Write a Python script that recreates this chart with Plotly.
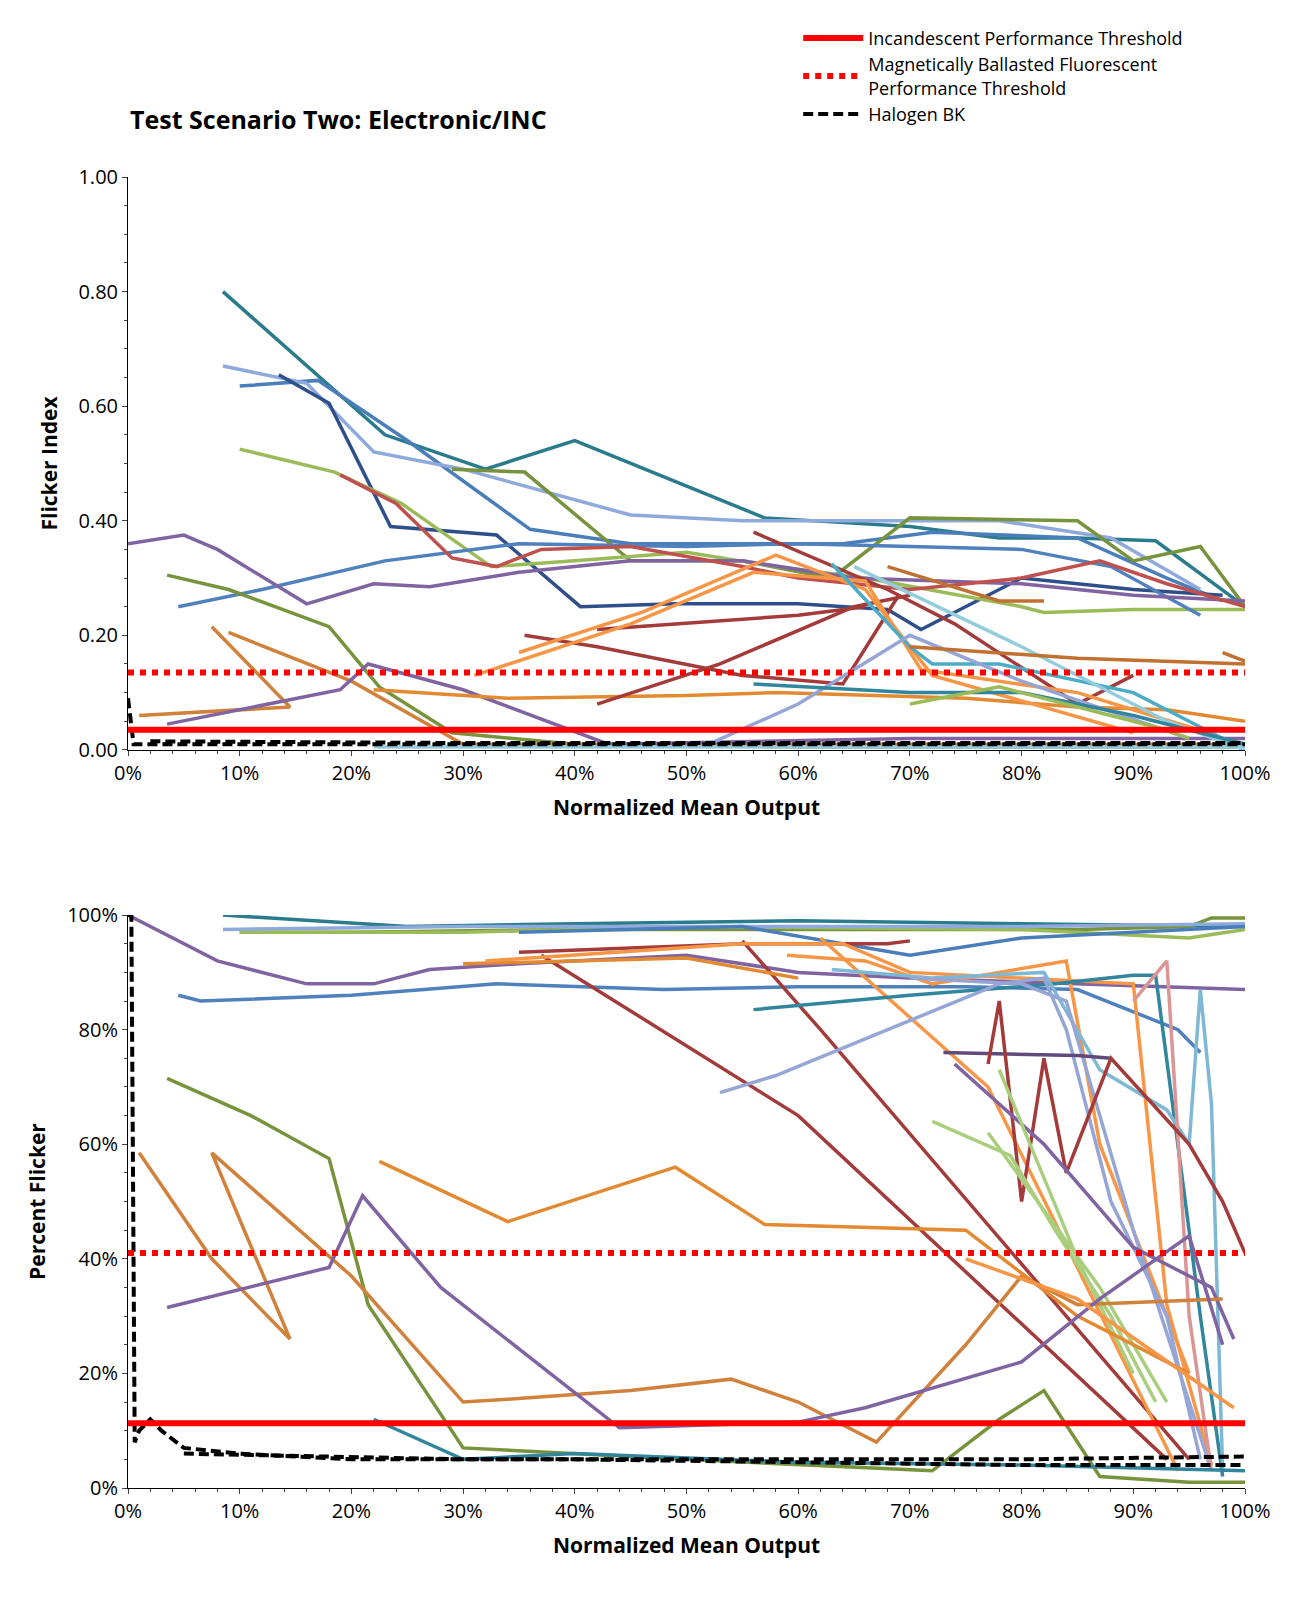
import plotly.graph_objects as go
from plotly.subplots import make_subplots

# ---- data: top (flicker index) ----
top_series = [
 ("#2a7b8c", [0.085,0.23,0.32,0.40,0.57,0.70,0.78,0.85,0.92,1.0], [0.80,0.55,0.49,0.54,0.405,0.39,0.37,0.37,0.365,0.25]),
 ("#4a7ebb", [0.10,0.17,0.25,0.36,0.45,0.55,0.64,0.72,0.85,0.93,0.98], [0.635,0.645,0.54,0.385,0.36,0.36,0.36,0.38,0.37,0.30,0.26]),
 ("#8ea9db", [0.085,0.16,0.22,0.30,0.45,0.55,0.67,0.78,0.88,0.96], [0.67,0.64,0.52,0.49,0.41,0.40,0.40,0.40,0.37,0.28]),
 ("#2e4f8a", [0.135,0.18,0.235,0.33,0.405,0.49,0.60,0.68,0.71,0.80,0.90,0.98], [0.655,0.605,0.39,0.375,0.25,0.255,0.255,0.245,0.21,0.30,0.28,0.27]),
 ("#77933c", [0.29,0.355,0.45,0.55,0.63,0.70,0.85,0.90,0.96,1.0], [0.49,0.485,0.33,0.33,0.30,0.405,0.40,0.33,0.355,0.25]),
 ("#9bbb59", [0.10,0.185,0.245,0.30,0.325,0.40,0.50,0.58,0.66,0.80,0.82,0.90,1.0], [0.525,0.485,0.43,0.355,0.32,0.33,0.345,0.32,0.30,0.25,0.24,0.245,0.245]),
 ("#4f81bd", [0.045,0.12,0.23,0.35,0.50,0.60,0.70,0.80,0.88,0.96], [0.25,0.28,0.33,0.36,0.355,0.36,0.355,0.35,0.32,0.235]),
 ("#8064a2", [0.0,0.05,0.08,0.16,0.22,0.27,0.35,0.45,0.55,0.65,0.80,0.90,1.0], [0.36,0.375,0.35,0.255,0.29,0.285,0.31,0.33,0.33,0.30,0.29,0.27,0.26]),
 ("#c0504d", [0.19,0.24,0.29,0.33,0.37,0.45,0.55,0.60,0.70,0.80,0.87,0.93,1.0], [0.48,0.43,0.335,0.32,0.35,0.355,0.32,0.30,0.28,0.30,0.33,0.29,0.25]),
 ("#77933c", [0.035,0.09,0.18,0.225,0.29,0.40,0.6,1.0], [0.305,0.28,0.215,0.11,0.03,0.01,0.005,0.005]),
 ("#d0813b", [0.075,0.145,0.01], [0.215,0.075,0.06]),
 ("#d0813b", [0.09,0.2,0.3,0.6,1.0], [0.205,0.12,0.01,0.01,0.01]),
 ("#8064a2", [0.035,0.19,0.215,0.30,0.43,0.7,0.9,1.0], [0.045,0.105,0.15,0.105,0.01,0.02,0.02,0.02]),
 ("#e28a32", [0.22,0.34,0.50,0.58,0.75,0.85,0.93,1.0], [0.105,0.09,0.095,0.10,0.09,0.075,0.07,0.05]),
 ("#a33b3b", [0.355,0.42,0.55,0.64,0.69], [0.20,0.18,0.13,0.115,0.27]),
 ("#a33b3b", [0.42,0.6,0.66], [0.21,0.235,0.25]),
 ("#a33b3b", [0.56,0.68,0.74,0.85,0.9], [0.38,0.28,0.22,0.08,0.13]),
 ("#a33b3b", [0.42,0.53,0.65,0.7], [0.08,0.15,0.25,0.27]),
 ("#f79646", [0.31,0.45,0.56,0.66,0.71,0.85,0.95,0.98], [0.13,0.22,0.31,0.295,0.14,0.10,0.04,0.02]),
 ("#f79646", [0.35,0.46,0.58,0.66,0.72,0.90], [0.17,0.24,0.34,0.28,0.13,0.03]),
 ("#4bacc6", [0.63,0.70,0.72,0.78,0.90,0.98], [0.325,0.18,0.15,0.15,0.10,0.02]),
 ("#93cddd", [0.65,0.80,0.93,1.0], [0.32,0.18,0.05,0.0]),
 ("#95a5d6", [0.52,0.60,0.70,0.80,0.95], [0.01,0.08,0.20,0.12,0.02]),
 ("#c07030", [0.68,0.78,0.82], [0.32,0.26,0.26]),
 ("#c07030", [0.70,0.85,1.0], [0.18,0.16,0.15]),
 ("#c07030", [0.98,1.0], [0.17,0.155]),
 ("#31859c", [0.56,0.70,0.80,0.90,1.0], [0.115,0.10,0.10,0.06,0.01]),
 ("#9bbb59", [0.70,0.78,0.92,0.95], [0.08,0.11,0.04,0.02]),
 ("#93cddd", [0.22,0.5,0.8,1.0], [0.005,0.005,0.005,0.005]),
]
top_halogen = [([0.0,0.005,0.3,0.6,1.0], [0.09,0.01,0.01,0.01,0.01]),
               ([0.02,0.3,0.6,1.0], [0.015,0.012,0.012,0.012])]

# ---- data: bottom (percent flicker) ----
bot_series = [
 ("#2a7b8c", [0.085,0.25,0.4,0.6,0.8,1.0], [100,98,98.5,99,98.5,98]),
 ("#77933c", [0.10,0.2,0.4,0.7,0.85,0.95,0.97,1.0], [97,97,97.5,97.5,97.5,98,99.5,99.5]),
 ("#9bbb59", [0.1,0.3,0.5,0.8,0.95,1.0], [97,97,98,97.5,96,97.5]),
 ("#8ea9db", [0.085,0.3,0.6,0.8,1.0], [97.5,98,98,98,98.5]),
 ("#4a7ebb", [0.35,0.55,0.70,0.80,0.90,1.0], [97,98,93,96,97,98]),
 ("#8064a2", [0.0,0.08,0.16,0.22,0.27,0.35,0.5,0.6,0.7,0.85,1.0], [100,92,88,88,90.5,91.5,93,90,89,88,87]),
 ("#4f81bd", [0.045,0.065,0.2,0.33,0.48,0.60,0.75,0.85,0.94,0.96], [86,85,86,88,87,87.5,87.5,87,80,76]),
 ("#a33b3b", [0.35,0.55,0.68,0.7], [93.5,95,95,95.5]),
 ("#a33b3b", [0.37,0.60,0.93], [93,65,5]),
 ("#a33b3b", [0.55,0.62,0.95], [95.5,80,5]),
 ("#e28a32", [0.30,0.50,0.60], [91.5,92.5,89]),
 ("#f79646", [0.32,0.55,0.64,0.7,0.9,0.93,0.97], [92,95,95,90,88,32,4]),
 ("#f79646", [0.59,0.66,0.72,0.84,0.87,0.95], [93,92,88,92,60,20]),
 ("#f79646", [0.62,0.77,0.94], [96,70,3]),
 ("#31859c", [0.56,0.7,0.83,0.9,0.92,0.96,0.98], [83.5,86,88,89.5,89.5,30,2]),
 ("#7fb8d4", [0.63,0.72,0.82,0.87,0.93,0.95,0.96,0.97,0.98], [90.5,89,90,73,66,60,87,67,3]),
 ("#95a5d6", [0.53,0.58,0.78,0.82,0.84,0.88,0.93,0.96], [69,72,88,89,80,50,30,5]),
 ("#95a5d6", [0.70,0.80,0.84,0.90,0.95,0.97], [89,88,85,45,15,3]),
 ("#d99694", [0.9,0.93,0.95,0.97], [85,92,30,3]),
 ("#604a7b", [0.73,0.85,0.88], [76,75.5,75]),
 ("#a33b3b", [0.77,0.78,0.80,0.82,0.84,0.88,0.95,0.98,1.0], [74,85,50,75,55,75,60,50,41]),
 ("#8064a2", [0.74,0.82,0.9,0.97,0.99], [74,60,42,35,26]),
 ("#a9cf7e", [0.72,0.79,0.83,0.88,0.92], [64,58,45,30,15]),
 ("#a9cf7e", [0.78,0.85,0.90], [73,40,20]),
 ("#a9cf7e", [0.77,0.87,0.93], [62,35,15]),
 ("#77933c", [0.035,0.11,0.18,0.215,0.30,0.5,0.72,0.78,0.82,0.87,0.95,1.0], [71.5,65,57.5,32,7,5,3,12,17,2,1,1]),
 ("#d0813b", [0.01,0.075,0.145,0.075,0.20,0.30,0.34,0.45,0.54,0.6,0.67,0.75,0.80,0.85,0.98], [58.5,40,26,58.5,37,15,15.5,17,19,15,8,25,37,32,33]),
 ("#e28a32", [0.225,0.34,0.49,0.57,0.75,0.85,0.95], [57,46.5,56,46,45,30,20]),
 ("#8064a2", [0.035,0.18,0.21,0.28,0.44,0.6,0.66,0.8,0.87,0.95,0.98], [31.5,38.5,51,35,10.5,11.5,14,22,33,44,25]),
 ("#31859c", [0.22,0.30,0.40,0.6,0.8,1.0], [12,5,6,4.5,4,3]),
 ("#f79646", [0.75,0.85,0.99], [40,33,14]),
]
bot_halogen = [([0.0,0.003,0.006,0.01,0.02,0.03,0.05,0.1,0.2,0.4,0.6,0.8,1.0], [100,100,8,10,12,10,7,6,5,5,4.5,4,4]),
               ([0.05,0.3,0.6,0.8,1.0], [6,5,5,5,5.5])]

thr_inc = (0.035, 11.3)
thr_mag = (0.135, 41)

LW = 3.5
fig = make_subplots(rows=2, cols=1, vertical_spacing=0.126)
fig.update_layout(yaxis=dict(domain=[0.563, 1.0]), yaxis2=dict(domain=[0, 0.437]))

for c, x, y in top_series:
    fig.add_trace(go.Scatter(x=x, y=y, mode="lines", line=dict(color=c, width=LW), showlegend=False), 1, 1)
for c, x, y in bot_series:
    fig.add_trace(go.Scatter(x=x, y=y, mode="lines", line=dict(color=c, width=LW), showlegend=False), 2, 1)

HDASH = "10px,5px"
for x, y in top_halogen:
    fig.add_trace(go.Scatter(x=x, y=y, mode="lines", line=dict(color="black", width=4, dash=HDASH), showlegend=False), 1, 1)
for x, y in bot_halogen:
    fig.add_trace(go.Scatter(x=x, y=y, mode="lines", line=dict(color="black", width=4, dash=HDASH), showlegend=False), 2, 1)

for row, idx in ((1, 0), (2, 1)):
    fig.add_trace(go.Scatter(x=[0, 1], y=[thr_inc[idx]]*2, mode="lines", line=dict(color="#ff0000", width=6),
                             name="Incandescent Performance Threshold", showlegend=(row == 1)), row, 1)
    fig.add_trace(go.Scatter(x=[0, 1], y=[thr_mag[idx]]*2, mode="lines", line=dict(color="#ff0000", width=6, dash="dot"),
                             name="Magnetically Ballasted Fluorescent<br>Performance Threshold", showlegend=(row == 1)), row, 1)
fig.add_trace(go.Scatter(x=[None], y=[None], mode="lines", line=dict(color="black", width=4, dash=HDASH),
                         name="Halogen BK"), 1, 1)

xt = [i/10 for i in range(11)]
for r in (1, 2):
    fig.update_xaxes(row=r, col=1, range=[0, 1], tickvals=xt, ticktext=[f"{int(v*100)}%" for v in xt],
                     showline=True, linecolor="black", linewidth=1, ticks="outside", ticklen=5,
                     showgrid=False, zeroline=False, tickfont=dict(size=20),
                     title=dict(text="<b>Normalized Mean Output</b>", font=dict(size=21)),
                     minor=dict(ticks="outside", ticklen=3, dtick=0.02))
fig.update_yaxes(row=1, col=1, range=[0, 1], dtick=0.2, tickformat=".2f",
                 title=dict(text="<b>Flicker Index</b>", font=dict(size=21)))
fig.update_yaxes(row=2, col=1, range=[0, 100], dtick=20, ticksuffix="%",
                 title=dict(text="<b>Percent Flicker</b>", font=dict(size=21)))
fig.update_yaxes(showline=True, linecolor="black", linewidth=1, ticks="outside", ticklen=5,
                 showgrid=False, zeroline=False, tickfont=dict(size=20),
                 minor=dict(ticks="outside", ticklen=3, nticks=5))

fig.add_annotation(text="<b>Test Scenario Two: Electronic/INC</b>", xref="paper", yref="paper",
                   x=0, y=1.044, xanchor="left", yanchor="middle", showarrow=False, font=dict(size=25))

fig.update_layout(width=1307, height=1605, plot_bgcolor="white", paper_bgcolor="white",
                  margin=dict(l=120, r=70, t=160, b=125),
                  font=dict(family="Open Sans", color="black"),
                  legend=dict(x=0.6, y=1.12, xanchor="left", yanchor="top", font=dict(size=18),
                              bgcolor="rgba(0,0,0,0)", tracegroupgap=4, itemwidth=60))
fig.write_html("out.html")
